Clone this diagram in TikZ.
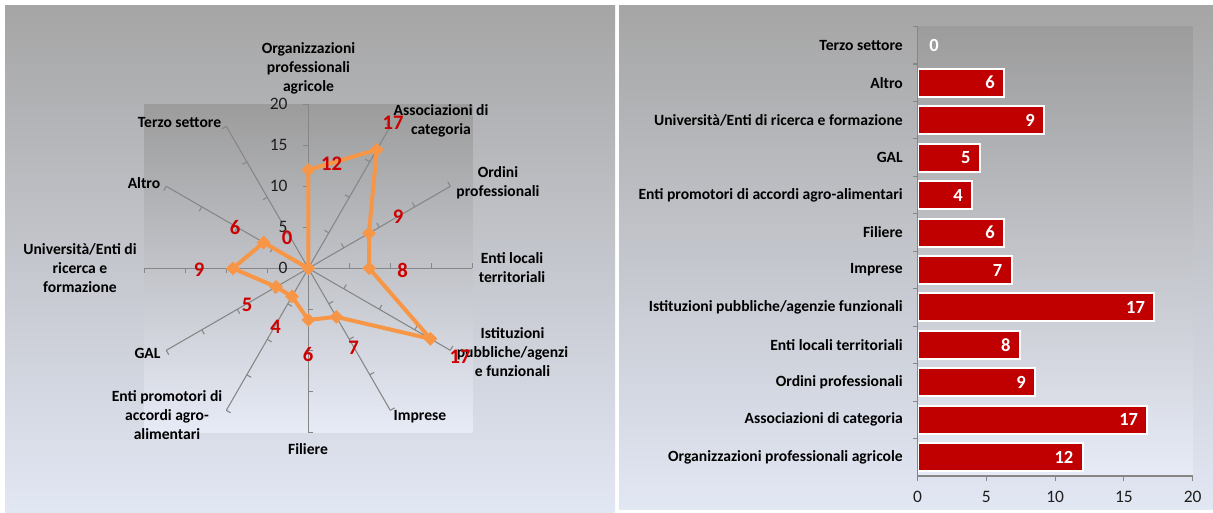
\documentclass[tikz,border=0pt]{standalone}
\usepackage{fontspec}
\setmainfont{Carlito}
\usetikzlibrary{shapes.geometric}

\definecolor{bgtop}{RGB}{165,165,165}
\definecolor{bgmid}{RGB}{194,207,232}
\definecolor{bgbot}{RGB}{226,231,244}
\definecolor{patop}{RGB}{156,156,156}
\definecolor{pamid}{RGB}{190,204,230}
\definecolor{pabot}{RGB}{231,235,246}
\definecolor{axisgray}{RGB}{134,134,134}
\definecolor{radarorange}{RGB}{247,150,70}
\definecolor{barred}{RGB}{192,0,0}
\definecolor{valred}{RGB}{204,0,0}
\definecolor{ticktext}{RGB}{30,30,30}

\tikzset{
  panel/.style={top color=bgtop, middle color=bgmid, bottom color=bgbot},
  plotarea/.style={top color=patop, middle color=pamid, bottom color=pabot},
  axisline/.style={draw=axisgray, line width=0.8pt},
  radarline/.style={draw=radarorange, line width=3pt, line join=round},
  marker/.style={diamond, fill=radarorange, inner sep=0pt, minimum size=10.5pt},
  catlabel/.style={font=\fontsize{11.7}{14.25}\selectfont\bfseries, align=center, inner sep=0pt, text=black},
  scalelabel/.style={font=\fontsize{13.1}{15}\selectfont, inner sep=0pt, text=ticktext},
  vallabel/.style={font=\fontsize{15.5}{17}\selectfont\bfseries, inner sep=0pt, text=valred},
  barbox/.style={fill=barred, draw=white, line width=1.5pt},
  barvalue/.style={font=\fontsize{13.9}{16}\selectfont\bfseries, inner sep=0pt, text=white},
}

\begin{document}
\begin{tikzpicture}[x=0.75pt, y=-0.75pt]
\useasboundingbox (0,0) rectangle (1213,512);
\fill[white] (0,0) rectangle (1213,512);

% ---------- left panel: radar chart ----------
\shade[panel] (5,5) rectangle (615,512);
\shade[plotarea] (144.3,104.3) rectangle (472.3,432.3);

\begin{scope}[shift={(308.3,268.3)}, y=0.75pt]
  % spokes with tick marks every 5 units
  \foreach \i in {0,...,11}{
    \draw[axisline] (0,0) -- ({90-30*\i}:164);
    \foreach \k in {1,...,4}
      \draw[axisline] ({90-30*\i}:{41*\k}) -- ++({180-30*\i}:5);
  }
  % value scale on the vertical spoke
  \foreach \v in {0,5,10,15,20}
    \node[scalelabel, anchor=east] (s\v) at (-20.5,{8.2*\v}) {\v};
  % data points (unrounded values, labels show them rounded)
  \foreach \v [count=\i from 0] in {12.0,16.7,8.54,7.43,17.2,6.84,6.29,3.96,4.53,9.2,6.29,0}
    \coordinate (d\i) at ({90-30*\i}:{8.2*\v});
  \draw[radarline] (d0) -- (d1) -- (d2) -- (d3) -- (d4) -- (d5) -- (d6)
     -- (d7) -- (d8) -- (d9) -- (d10) -- (d11) -- cycle;
  \foreach \i in {0,...,11}
    \node[marker] (m\i) at (d\i) {};
\end{scope}

% category names around the radar
\node[catlabel] (cOrg) at (308.5,68) {Organizzazioni\\professionali\\agricole};
\node[catlabel] (cAss) at (441,120.5) {Associazioni di\\categoria};
\node[catlabel] (cOrd) at (498,182.5) {Ordini\\professionali};
\node[catlabel] (cEnt) at (512,267.5) {Enti locali\\territoriali};
\node[catlabel] (cIst) at (512.5,352) {Istituzioni\\pubbliche/agenzi\\e funzionali};
\node[catlabel] (cImp) at (420,416.5) {Imprese};
\node[catlabel] (cFil) at (308,449) {Filiere};
\node[catlabel] (cPro) at (167,415) {Enti promotori di\\accordi agro-\\alimentari};
\node[catlabel] (cGAL) at (147.5,353) {GAL};
\node[catlabel] (cUni) at (80,268) {Università/Enti di\\ricerca e\\formazione};
\node[catlabel] (cAlt) at (144,183.5) {Altro};
\node[catlabel] (cTer) at (179.5,122) {Terzo settore};

% data values
\node[vallabel] (vOrg) at (331.5,164) {12};
\node[vallabel] (vAss) at (393,123) {17};
\node[vallabel] (vOrd) at (398,217) {9};
\node[vallabel] (vEnt) at (402.5,270) {8};
\node[vallabel] (vIst) at (460,357) {17};
\node[vallabel] (vImp) at (353.5,348) {7};
\node[vallabel] (vFil) at (308,355) {6};
\node[vallabel] (vPro) at (275.5,327) {4};
\node[vallabel] (vGAL) at (247,305) {5};
\node[vallabel] (vUni) at (199,270) {9};
\node[vallabel] (vAlt) at (235,228) {6};
\node[vallabel] (vTer) at (287,238) {0};

% ---------- right panel: bar chart ----------
\shade[panel] (619,5) rectangle (1213,509);
\shade[plotarea] (917.5,26.5) rectangle (1192.7,476);

% category names
\foreach \lab [count=\j from 0] in {Terzo settore, Altro,
    Università/Enti di ricerca e formazione, GAL,
    Enti promotori di accordi agro-alimentari, Filiere, Imprese,
    Istituzioni pubbliche/agenzie funzionali, Enti locali territoriali,
    Ordini professionali, Associazioni di categoria,
    Organizzazioni professionali agricole}
  \node[catlabel, anchor=east] (b\j) at (903,{26.5+37.46*(\j+0.5)}) {\lab};

% bars (unrounded lengths) and their rounded values
\foreach \v/\lab [count=\j from 0] in {0/0, 6.29/6, 9.2/9, 4.53/5, 3.96/4, 6.29/6,
    6.84/7, 17.2/17, 7.43/8, 8.54/9, 16.7/17, 12.0/12}{
  \pgfmathsetmacro\yc{26.5+37.46*(\j+0.5)}
  \ifnum\lab=0
    \node[barvalue, anchor=west] (n\j) at (929,\yc) {\lab};
  \else
    \draw[barbox] (917.5,\yc-14) rectangle ({917.5+13.76*\v},\yc+14);
    \node[barvalue, anchor=east] (n\j) at ({917.5+13.76*\v-9},\yc) {\lab};
  \fi
}

% axes
\draw[axisline] (917.5,26.5) -- (917.5,476) -- (1192.7,476);
\foreach \j in {0,...,11}
  \draw[axisline] (917.5,{26.5+37.46*\j}) -- ++(-5,0);
\foreach \t in {0,5,10,15,20}{
  \draw[axisline] ({917.5+13.76*\t},476) -- ++(0,5);
  \node[scalelabel] (x\t) at ({917.5+13.76*\t},496.5) {\t};
}
\end{tikzpicture}
\end{document}
